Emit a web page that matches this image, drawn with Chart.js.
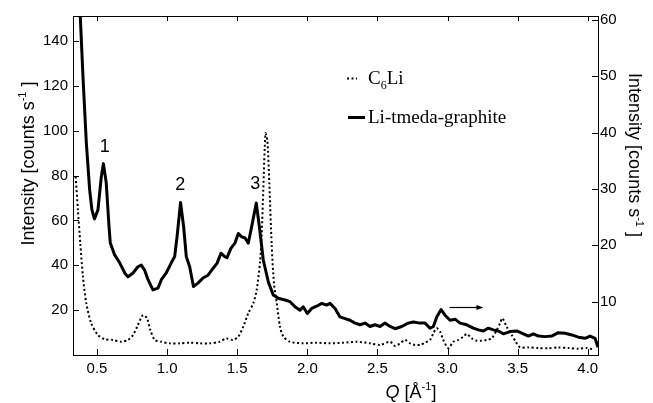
<!DOCTYPE html>
<html>
<head>
<meta charset="utf-8">
<script src="https://cdn.jsdelivr.net/npm/chart.js@4.4.1/dist/chart.umd.min.js"></script>
<style>
  body { margin: 0; background: #fff; }
  canvas { display: block; }
</style>
</head>
<body>
<canvas id="myChart" width="653" height="403"></canvas>
<script>
// Li-tmeda-graphite, read against the right axis
var solidQ = [0.375, 0.381, 0.400, 0.424, 0.448, 0.464, 0.482, 0.507, 0.531, 0.546,
  0.566, 0.586, 0.595, 0.626, 0.662, 0.698, 0.721, 0.757, 0.792, 0.816,
  0.840, 0.864, 0.899, 0.935, 0.959, 0.994, 1.030, 1.054, 1.071, 1.096,
  1.118, 1.137, 1.161, 1.188, 1.220, 1.256, 1.292, 1.327, 1.356, 1.384,
  1.411, 1.427, 1.456, 1.484, 1.508, 1.532, 1.556, 1.579, 1.603, 1.636,
  1.658, 1.686, 1.722, 1.757, 1.793, 1.841, 1.877, 1.912, 1.948, 1.971,
  2.000, 2.031, 2.067, 2.103, 2.138, 2.162, 2.198, 2.233, 2.269, 2.305,
  2.340, 2.376, 2.412, 2.447, 2.483, 2.519, 2.554, 2.590, 2.626, 2.673,
  2.720, 2.756, 2.804, 2.840, 2.875, 2.899, 2.923, 2.954, 2.982, 3.018,
  3.054, 3.089, 3.137, 3.184, 3.220, 3.255, 3.291, 3.327, 3.362, 3.398,
  3.446, 3.494, 3.541, 3.576, 3.612, 3.648, 3.695, 3.743, 3.790, 3.838,
  3.886, 3.933, 3.981, 4.016, 4.052, 4.073];
var solidI = [63.8, 60.6, 50.0, 38.2, 29.8, 26.3, 24.7, 26.3, 32.2, 34.5,
  31.1, 23.3, 20.4, 18.3, 16.9, 15.1, 14.4, 15.1, 16.2, 16.5,
  15.6, 13.9, 12.1, 12.4, 13.9, 15.1, 16.9, 18.0, 21.5, 27.6,
  23.3, 18.0, 16.2, 12.7, 13.3, 14.2, 14.7, 15.9, 16.8, 18.6,
  18.0, 17.8, 19.5, 20.4, 22.1, 21.5, 21.3, 20.4, 23.3, 27.5,
  23.3, 17.4, 13.5, 11.2, 10.6, 10.3, 10.0, 9.1, 8.5, 9.1,
  7.9, 8.8, 9.2, 9.7, 9.4, 9.7, 8.8, 7.3, 7.0, 6.7,
  6.2, 5.9, 6.2, 5.6, 5.9, 5.6, 6.2, 5.6, 5.2, 5.6,
  6.2, 6.4, 6.2, 6.2, 5.3, 5.6, 7.3, 8.6, 7.6, 6.7,
  6.9, 6.2, 5.9, 5.3, 5.0, 4.8, 5.3, 5.0, 4.8, 4.3,
  4.7, 4.8, 4.3, 3.9, 4.3, 3.9, 3.8, 3.9, 4.5, 4.4,
  4.1, 3.7, 3.5, 3.9, 3.5, 1.9];

// C6Li, read against the left axis
var dotQ = [0.348, 0.364, 0.381, 0.400, 0.424, 0.459, 0.507, 0.555, 0.614, 0.673,
  0.721, 0.757, 0.792, 0.828, 0.857, 0.880, 0.912, 0.959, 1.019, 1.090,
  1.161, 1.233, 1.304, 1.375, 1.422, 1.470, 1.508, 1.543, 1.579, 1.615,
  1.639, 1.663, 1.675, 1.686, 1.702, 1.715, 1.729, 1.746, 1.762, 1.782,
  1.805, 1.829, 1.877, 1.971, 2.067, 2.162, 2.257, 2.352, 2.447, 2.519,
  2.590, 2.626, 2.661, 2.697, 2.733, 2.768, 2.804, 2.840, 2.875, 2.899,
  2.923, 2.947, 2.970, 3.006, 3.041, 3.077, 3.113, 3.137, 3.173, 3.208,
  3.244, 3.280, 3.315, 3.351, 3.374, 3.391, 3.422, 3.458, 3.486, 3.517,
  3.576, 3.648, 3.719, 3.790, 3.862, 3.933, 3.993, 4.040];
var dotI = [79.5, 64.7, 49.8, 34.9, 23.0, 14.1, 8.9, 7.0, 6.7, 5.9,
  6.7, 8.9, 13.4, 17.8, 16.4, 11.2, 6.7, 5.9, 5.2, 5.2,
  5.5, 5.2, 5.2, 5.9, 7.4, 6.7, 8.2, 12.6, 18.6, 23.1,
  29.0, 41.5, 54.3, 73.6, 98.9, 95.9, 76.6, 49.1, 32.0, 23.2,
  12.6, 8.2, 5.9, 5.2, 5.5, 5.2, 5.5, 5.9, 5.2, 4.5,
  5.9, 4.0, 5.2, 6.7, 5.2, 4.5, 4.5, 5.5, 6.7, 9.7,
  11.9, 10.4, 6.7, 3.0, 5.9, 6.7, 8.2, 9.4, 7.4, 6.4,
  6.4, 6.7, 7.4, 11.2, 14.1, 16.4, 12.6, 8.9, 5.9, 3.4,
  3.4, 3.1, 3.0, 3.4, 3.1, 2.8, 3.1, 2.5];

var qTicks = [0.5, 1.0, 1.5, 2.0, 2.5, 3.0, 3.5, 4.0];
var leftTicks = [20, 40, 60, 80, 100, 120, 140];
var rightTicks = [10, 20, 30, 40, 50, 60];

// peak labels (right axis values) and the arrow pointing to the right axis
var peakNames = ['1', '2', '3'];
var peakQ = [0.555, 1.094, 1.628];
var peakI = [37.8, 31.0, 31.1];
var arrowQ = [3.013, 3.256];
var arrowI = 9.1;

var SANS = '"Liberation Sans", Arial, Helvetica, sans-serif';
var SERIF = '"Liberation Serif", "Times New Roman", serif';

function fontFor(p, size, family) {
  var s = (p.sup || p.sub) ? Math.round(size * 0.62) : size;
  return (p.it ? 'italic ' : '') + s + 'px ' + family;
}

// draws text runs (with super/subscripts) centred on x, baseline y
function drawRich(ctx, parts, x, y, angle, size, family, alignLeft) {
  ctx.save();
  ctx.translate(x, y);
  ctx.rotate(angle);
  ctx.textAlign = 'left';
  ctx.textBaseline = 'alphabetic';
  ctx.fillStyle = '#000';
  var total = 0;
  parts.forEach(function (p) {
    ctx.font = fontFor(p, size, family);
    p.w = ctx.measureText(p.t).width;
    total += p.w;
  });
  var cx = alignLeft ? 0 : -total / 2;
  parts.forEach(function (p) {
    ctx.font = fontFor(p, size, family);
    var dy = p.sup ? -size * 0.42 : (p.sub ? size * 0.28 : 0);
    ctx.fillText(p.t, cx, dy);
    cx += p.w;
  });
  ctx.restore();
}

function splitSub(label) {
  return label.split(/(\d+)/).filter(function (s) { return s.length; }).map(function (s) {
    return /^\d+$/.test(s) ? { t: s, sub: true } : { t: s };
  });
}

var decorations = {
  id: 'decorations',
  afterDraw: function (chart) {
    var ctx = chart.ctx;
    var ca = chart.chartArea;
    var sx = chart.scales.x, sl = chart.scales.y, sr = chart.scales.y1;
    ctx.save();
    ctx.strokeStyle = '#000';
    ctx.lineWidth = 1;
    ctx.strokeRect(Math.round(ca.left) + 0.5, Math.round(ca.top) + 0.5,
      Math.round(ca.right - ca.left), Math.round(ca.bottom - ca.top));

    // inward ticks
    ctx.beginPath();
    qTicks.forEach(function (v) {
      var px = Math.round(sx.getPixelForValue(v)) + 0.5;
      ctx.moveTo(px, ca.bottom); ctx.lineTo(px, ca.bottom - 6);
      ctx.moveTo(px, ca.top); ctx.lineTo(px, ca.top + 5);
    });
    leftTicks.forEach(function (v) {
      var py = Math.round(sl.getPixelForValue(v)) + 0.5;
      ctx.moveTo(ca.left, py); ctx.lineTo(ca.left + 6, py);
    });
    rightTicks.forEach(function (v) {
      var py = Math.round(sr.getPixelForValue(v)) + 0.5;
      ctx.moveTo(ca.right, py); ctx.lineTo(ca.right - 6, py);
    });
    ctx.stroke();

    // peak numbers
    ctx.fillStyle = '#000';
    ctx.font = '18px ' + SANS;
    ctx.textAlign = 'center';
    ctx.textBaseline = 'alphabetic';
    peakNames.forEach(function (n, i) {
      ctx.fillText(n, sx.getPixelForValue(peakQ[i]), sr.getPixelForValue(peakI[i]) + 6.5);
    });

    // arrow toward the right axis
    var ax0 = sx.getPixelForValue(arrowQ[0]), ax1 = sx.getPixelForValue(arrowQ[1]);
    var ay = Math.round(sr.getPixelForValue(arrowI)) + 0.5;
    ctx.lineWidth = 1.2;
    ctx.beginPath();
    ctx.moveTo(ax0, ay); ctx.lineTo(ax1 - 5, ay);
    ctx.stroke();
    ctx.beginPath();
    ctx.moveTo(ax1, ay); ctx.lineTo(ax1 - 7, ay - 2.5); ctx.lineTo(ax1 - 7, ay + 2.5);
    ctx.closePath();
    ctx.fill();

    // legend inside the plot
    var lx = ca.left + 274, ly = [78, 117];
    chart.data.datasets.forEach(function (ds, i) {
      ctx.save();
      ctx.strokeStyle = '#000';
      ctx.lineWidth = ds.borderWidth;
      ctx.setLineDash(ds.borderDash || []);
      ctx.beginPath();
      var y = Math.round(ly[i]) + 0.5;
      if (ds.borderDash) { ctx.moveTo(lx, y); ctx.lineTo(lx + 10, y); }
      else { ctx.moveTo(lx + 1, y); ctx.lineTo(lx + 18, y); }
      ctx.stroke();
      ctx.restore();
      drawRich(ctx, splitSub(ds.label), lx + 21, ly[i] + 6, 0, 19, SERIF, true);
    });

    // axis titles
    var yTitle = [{ t: 'Intensity [counts s' }, { t: '-1', sup: true }, { t: ' ]' }];
    drawRich(ctx, yTitle, 33.5, 163.5, -Math.PI / 2, 18, SANS);
    drawRich(ctx, yTitle, 628.5, 155, Math.PI / 2, 18, SANS);
    drawRich(ctx, [{ t: 'Q', it: true }, { t: ' [Å' }, { t: '-1', sup: true }, { t: ']' }],
      411, 398, 0, 18, SANS);
    ctx.restore();
  }
};

var tickFont = { family: SANS, size: 15 };
var noGrid = { display: false, drawTicks: false };

var ctx = document.getElementById('myChart').getContext('2d');
var myChart = new Chart(ctx, {
  type: 'line',
  data: {
    datasets: [{
      label: 'C6Li',
      yAxisID: 'y',
      data: dotQ.map(function (q, i) { return { x: q, y: dotI[i] }; }),
      borderColor: '#000',
      borderWidth: 2,
      borderDash: [2, 2.5],
      pointRadius: 0,
      tension: 0.25,
      clip: 0
    }, {
      label: 'Li-tmeda-graphite',
      yAxisID: 'y1',
      data: solidQ.map(function (q, i) { return { x: q, y: solidI[i] }; }),
      borderColor: '#000',
      borderWidth: 3,
      borderJoinStyle: 'round',
      pointRadius: 0,
      tension: 0,
      clip: 0
    }]
  },
  options: {
    responsive: false,
    animation: false,
    devicePixelRatio: 1,
    layout: { padding: { top: 16, left: 0, right: 0, bottom: 0 } },
    plugins: { legend: { display: false }, tooltip: { enabled: false } },
    scales: {
      x: {
        type: 'linear', min: 0.329, max: 4.073,
        grid: noGrid, border: { display: false },
        afterBuildTicks: function (a) { a.ticks = qTicks.map(function (v) { return { value: v }; }); },
        afterFit: function (a) { a.height = 48; },
        ticks: { padding: 5, font: tickFont, color: '#000', maxRotation: 0, autoSkip: false,
          callback: function (v) { return Number(v).toFixed(1); } }
      },
      y: {
        position: 'left', min: 0, max: 151.2,
        grid: noGrid, border: { display: false },
        afterBuildTicks: function (a) { a.ticks = leftTicks.map(function (v) { return { value: v }; }); },
        afterFit: function (a) { a.width = 73; },
        ticks: { padding: 5, font: tickFont, color: '#000' }
      },
      y1: {
        position: 'right', min: 0.54, max: 60.7,
        grid: noGrid, border: { display: false },
        afterBuildTicks: function (a) { a.ticks = rightTicks.map(function (v) { return { value: v }; }); },
        afterFit: function (a) { a.width = 55; },
        ticks: { padding: 2, font: tickFont, color: '#000' }
      }
    }
  },
  plugins: [decorations]
});
</script>
</body>
</html>
